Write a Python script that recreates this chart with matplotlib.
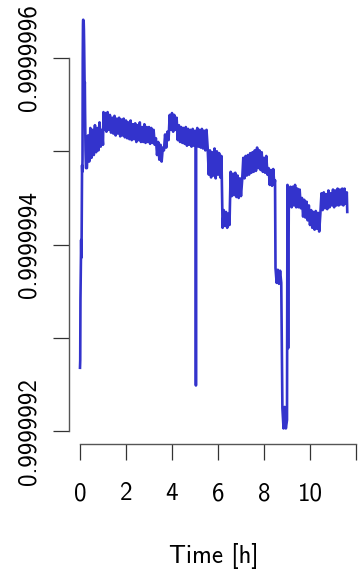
import numpy as np
import matplotlib
matplotlib.use('Agg')
import matplotlib.pyplot as plt

# time in hours, value deficit below 1 in units of 1e-7
time_h = [
    0.00, 0.01, 0.02, 0.04, 0.05, 0.06, 0.07, 0.08, 0.09, 0.10, 0.11, 0.12,
    0.13, 0.14, 0.15, 0.16, 0.17, 0.18, 0.20, 0.21, 0.22, 0.24, 0.26,
    0.30, 0.35, 0.40, 0.45, 0.50, 0.55, 0.60, 0.65, 0.70, 0.75, 0.80, 0.85,
    0.90, 0.95, 1.00, 1.02, 1.05, 1.10, 1.15, 1.20, 1.25, 1.30, 1.35, 1.40,
    1.45, 1.50, 1.55, 1.60, 1.65, 1.70, 1.75, 1.80, 1.85, 1.90, 1.95, 2.00,
    2.05, 2.10, 2.15, 2.20, 2.25, 2.30, 2.35, 2.40, 2.45, 2.50, 2.55, 2.60,
    2.65, 2.70, 2.75, 2.80, 2.85, 2.90, 2.95, 3.00, 3.05, 3.10, 3.15, 3.20,
    3.25, 3.30, 3.35, 3.40, 3.45, 3.50, 3.55, 3.60, 3.65, 3.70, 3.75, 3.80,
    3.85, 3.90, 3.95, 4.00, 4.05, 4.10, 4.15, 4.20, 4.25, 4.30, 4.35, 4.40,
    4.45, 4.50, 4.55, 4.60, 4.65, 4.70, 4.75, 4.80, 4.85, 4.90, 4.95, 5.00,
    5.03, 5.04, 5.05, 5.10, 5.15, 5.20, 5.25, 5.30, 5.35, 5.40, 5.45, 5.50,
    5.55, 5.60, 5.65, 5.70, 5.75, 5.80, 5.85, 5.90, 5.95, 6.00, 6.05, 6.10,
    6.15, 6.20, 6.25, 6.30, 6.35, 6.40, 6.45, 6.50, 6.55, 6.60, 6.65, 6.70,
    6.75, 6.80, 6.85, 6.90, 6.95, 7.00, 7.05, 7.10, 7.15, 7.20, 7.25, 7.30,
    7.35, 7.40, 7.45, 7.50, 7.55, 7.60, 7.65, 7.70, 7.75, 7.80, 7.85, 7.90,
    7.95, 8.00, 8.05, 8.10, 8.15, 8.20, 8.25, 8.30, 8.35, 8.40, 8.45, 8.48,
    8.50, 8.55, 8.60, 8.65, 8.70, 8.75, 8.80, 8.85, 8.90, 8.95, 9.00, 9.02,
    9.05, 9.08, 9.10, 9.15, 9.20, 9.25, 9.30, 9.35, 9.40, 9.45, 9.50, 9.55,
    9.60, 9.65, 9.70, 9.75, 9.80, 9.85, 9.90, 9.95, 10.00, 10.05, 10.10,
    10.15, 10.20, 10.25, 10.30, 10.35, 10.40, 10.45, 10.50, 10.55, 10.60,
    10.65, 10.70, 10.75, 10.80, 10.85, 10.90, 10.95, 11.00, 11.05, 11.10,
    11.15, 11.20, 11.25, 11.30, 11.35, 11.40, 11.45, 11.50, 11.55, 11.60,
    11.62,
]

deficit_e7 = [
    7.32, 7.24, 6.59, 6.22, 5.95, 6.14, 5.97, 5.52, 5.15, 5.22, 5.09, 4.02,
    3.65, 3.59, 3.72, 3.61, 3.70, 3.86, 4.29, 4.26, 4.56, 4.99, 5.18,
    5.18, 4.83, 5.11, 4.75, 5.07, 4.77, 5.04, 4.72, 5.01, 4.75, 4.99, 4.69,
    4.95, 4.77, 4.93, 4.58, 4.77, 4.59, 4.79, 4.58, 4.77, 4.61, 4.80, 4.64,
    4.81, 4.62, 4.83, 4.65, 4.81, 4.64, 4.84, 4.66, 4.83, 4.65, 4.85, 4.67,
    4.86, 4.69, 4.87, 4.67, 4.88, 4.71, 4.87, 4.70, 4.90, 4.72, 4.88, 4.69,
    4.90, 4.74, 4.90, 4.71, 4.91, 4.74, 4.90, 4.74, 4.92, 4.75, 4.91, 4.77,
    4.93, 4.86, 5.04, 4.90, 5.09, 4.93, 5.11, 4.96, 4.99, 4.82, 4.96, 4.79,
    4.88, 4.61, 4.77, 4.59, 4.79, 4.61, 4.77, 4.64, 4.88, 4.72, 4.90, 4.74,
    4.91, 4.75, 4.92, 4.74, 4.94, 4.76, 4.93, 4.77, 4.95, 4.76, 4.94, 4.78,
    4.88, 7.51, 4.88, 4.75, 4.95, 4.77, 4.96, 4.76, 4.97, 4.78, 4.99, 4.77,
    4.96, 5.25, 4.99, 5.28, 5.01, 5.26, 4.97, 5.29, 5.00, 5.25, 5.02, 5.28,
    5.05, 5.82, 5.63, 5.80, 5.65, 5.82, 5.67, 5.79, 5.22, 5.48, 5.24, 5.47,
    5.23, 5.49, 5.26, 5.50, 5.29, 5.48, 5.31, 5.07, 5.29, 5.05, 5.26, 5.04,
    5.25, 5.02, 5.23, 5.01, 5.22, 4.99, 5.21, 4.96, 5.18, 4.99, 5.20, 5.01,
    5.22, 5.07, 5.23, 5.05, 5.25, 5.18, 5.36, 5.20, 5.37, 5.19, 5.36, 5.31,
    6.25, 6.41, 6.27, 6.42, 6.28, 6.41, 7.75, 7.97, 7.74, 7.97, 7.88, 5.36,
    7.11, 5.41, 5.58, 5.38, 5.60, 5.38, 5.58, 5.36, 5.60, 5.40, 5.60, 5.41,
    5.61, 5.50, 5.70, 5.52, 5.71, 5.54, 5.74, 5.58, 5.79, 5.63, 5.82,
    5.65, 5.84, 5.64, 5.83, 5.66, 5.86, 5.67, 5.45, 5.63, 5.44,
    5.61, 5.46, 5.62, 5.42, 5.60, 5.45, 5.58, 5.41, 5.60, 5.42,
    5.58, 5.40, 5.58, 5.41, 5.57, 5.40, 5.58, 5.40, 5.56, 5.44,
    5.65,
]

y_ticks = [0.9999992, 0.9999993, 0.9999994, 0.9999995, 0.9999996]
y_ticklabels = ['0.9999992', '', '0.9999994', '', '0.9999996']
x_ticks = [0, 2, 4, 6, 8, 10, 12]
x_ticklabels = ['0', '2', '4', '6', '8', '10', '']

plt.rcParams['font.family'] = ['cmss10', 'DejaVu Sans']
plt.rcParams['axes.unicode_minus'] = False
plt.rcParams['font.size'] = 18

fig = plt.figure(figsize=(3.6, 5.71), dpi=100)
ax = fig.add_axes([69 / 360, 127 / 571, 289 / 360, 439 / 571])

values = 1.0 - np.array(deficit_e7) * 1e-7
ax.plot(time_h, values, color='#3333cc', linewidth=1.9)

ax.set_xlim(-0.478, 12.087)
ax.set_ylim(1 - 8.137e-7, 1 - 3.432e-7)

for side in ['top', 'right']:
    ax.spines[side].set_visible(False)
ax.spines['left'].set_bounds(y_ticks[0], y_ticks[-1])
ax.spines['bottom'].set_bounds(x_ticks[0], x_ticks[-1])
for side in ['left', 'bottom']:
    ax.spines[side].set_color('#555555')
    ax.spines[side].set_linewidth(1.0)

ax.set_yticks(y_ticks)
ax.set_yticklabels(y_ticklabels, rotation=90, va='center')
ax.set_xticks(x_ticks)
ax.set_xticklabels(x_ticklabels)
ax.tick_params(direction='out', length=11.5, width=0.9, color='#333333')
ax.tick_params(axis='y', pad=9)
ax.tick_params(axis='x', pad=16)
ax.set_xlabel('Time [h]', labelpad=27)

fig.savefig('out.png', dpi=100)
